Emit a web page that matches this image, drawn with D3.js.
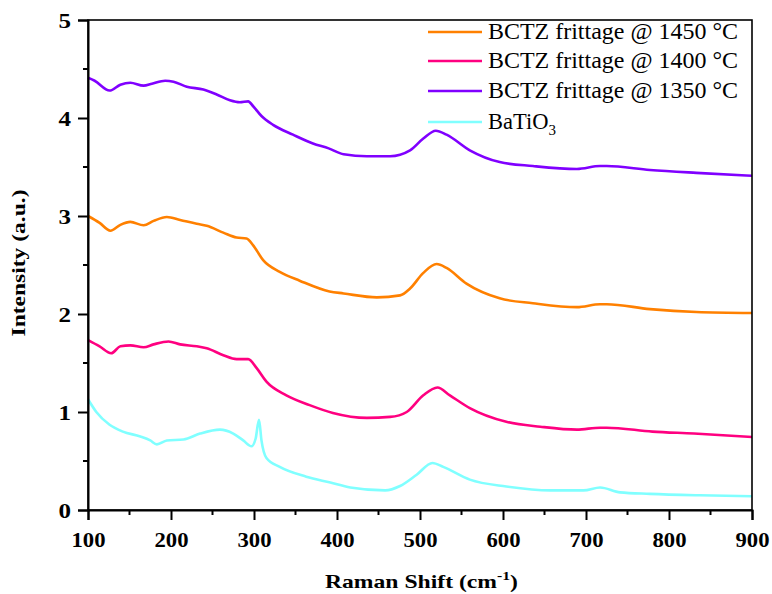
<!DOCTYPE html>
<html><head><meta charset="utf-8">
<script src="https://cdn.jsdelivr.net/npm/d3@7"></script>
<style>body{margin:0;background:#fff}svg{display:block}svg text{font-family:"Liberation Serif","Times New Roman",Times,serif}</style>
</head><body>
<svg id="chart" width="772" height="594"></svg>
<script>
const seriesNames = ["BCTZ frittage @ 1450 °C","BCTZ frittage @ 1400 °C","BCTZ frittage @ 1350 °C","BaTiO3"];
const seriesColors = ["#ff8000","#ff0080","#8000ff","#80ffff"];
const xTicks = [100,200,300,400,500,600,700,800,900];
const yTicks = [0,1,2,3,4,5];

const shift1450 = [100,114,127,139,151,167,179,195,211,231,243,263,279,291,299,311,331,355,391,408,448,476,488,504,520,532,556,596,636,689,717,725,777,833,900];
const int1450   = [3.00,2.93,2.85,2.91,2.94,2.905,2.95,2.99,2.96,2.92,2.90,2.83,2.78,2.77,2.70,2.55,2.43,2.34,2.23,2.21,2.17,2.19,2.26,2.42,2.51,2.47,2.31,2.16,2.11,2.07,2.10,2.10,2.05,2.02,2.01];

const shift1400 = [100,114,128,139,151,167,179,197,211,231,243,263,279,293,303,315,339,367,395,436,464,484,504,521,536,560,604,645,689,717,725,780,830,900];
const int1400   = [1.735,1.67,1.60,1.67,1.68,1.66,1.69,1.72,1.69,1.67,1.65,1.58,1.54,1.54,1.45,1.31,1.17,1.07,0.99,0.94,0.95,1.00,1.17,1.25,1.17,1.04,0.90,0.85,0.82,0.84,0.84,0.80,0.78,0.745];

const shift1350 = [100,108,126,139,151,167,177,193,203,219,239,255,271,283,293,299,309,323,347,371,390,408,436,464,488,504,519,532,560,596,636,689,717,725,777,833,900];
const int1350   = [4.41,4.38,4.28,4.34,4.36,4.33,4.35,4.38,4.37,4.32,4.29,4.24,4.18,4.16,4.17,4.12,4.02,3.93,3.83,3.74,3.69,3.63,3.61,3.61,3.67,3.79,3.87,3.83,3.67,3.55,3.51,3.48,3.51,3.51,3.47,3.44,3.41];

const shiftBT = [100,110,126,142,163,175,183,195,215,235,259,275,287,297,302,306,309,315,331,363,392,416,458,476,496,515,528,560,604,657,697,717,741,777,837,900];
const intBT   = [1.13,1.00,0.87,0.80,0.75,0.71,0.67,0.71,0.72,0.78,0.82,0.78,0.71,0.65,0.73,0.92,0.71,0.53,0.44,0.34,0.28,0.23,0.20,0.245,0.36,0.48,0.44,0.31,0.24,0.20,0.20,0.23,0.18,0.165,0.15,0.14];

const shifts = [shift1450, shift1400, shift1350, shiftBT];
const intens = [int1450, int1400, int1350, intBT];

const FONT = "'Liberation Serif','Times New Roman',Times,serif";
const svg = d3.select("#chart").style("font-family", FONT);
const mL = 88, mR = 752, mT = 20, mB = 510;
const x = d3.scaleLinear().domain([100,900]).range([mL,mR]);
const y = d3.scaleLinear().domain([0,5]).range([mB,mT]);

// curves
const line = d3.line().x(d=>x(d[0])).y(d=>y(d[1])).curve(d3.curveMonotoneX);
[3,1,0,2].forEach(i=>{
  const data = shifts[i].map((s,k)=>[s,intens[i][k]]);
  svg.append("path").datum(data).attr("d",line).attr("fill","none")
    .attr("stroke",seriesColors[i]).attr("stroke-width",2.6).attr("stroke-linejoin","round");
});

// frame
svg.append("rect").attr("x",mL).attr("y",mT).attr("width",mR-mL).attr("height",mB-mT)
  .attr("fill","none").attr("stroke","#000").attr("stroke-width",1.6);

// x axis
const xAxis = d3.axisBottom(x).tickValues(xTicks).tickSize(10).tickFormat(d3.format("d"));
const gx = svg.append("g").attr("transform",`translate(0,${mB})`).call(xAxis).attr("font-family",null);
gx.select(".domain").attr("stroke-width",2);
gx.selectAll(".tick line").attr("stroke-width",2);
gx.selectAll(".tick text").style("font-family",FONT).attr("font-size",22).attr("font-weight","bold").attr("dy",0).attr("y",37)
  .attr("textLength",34).attr("lengthAdjust","spacingAndGlyphs");
const xMinor = d3.range(150,900,100);
svg.append("g").selectAll("line").data(xMinor).join("line")
  .attr("x1",d=>x(d)).attr("x2",d=>x(d)).attr("y1",mB).attr("y2",mB+5)
  .attr("stroke","#000").attr("stroke-width",2);

// y axis
const yAxis = d3.axisLeft(y).tickValues(yTicks).tickSize(10).tickFormat(d3.format("d"));
const gy = svg.append("g").attr("transform",`translate(${mL},0)`).call(yAxis).attr("font-family",null);
gy.select(".domain").attr("stroke-width",2);
gy.selectAll(".tick line").attr("stroke-width",2);
gy.selectAll(".tick text").style("font-family",FONT).attr("font-size",21).attr("font-weight","bold").attr("x",-17).attr("dy","0.34em")
  .attr("textLength",12.5).attr("lengthAdjust","spacingAndGlyphs");
const yMinor = d3.range(0.5,5,1);
svg.append("g").selectAll("line").data(yMinor).join("line")
  .attr("x1",mL-5).attr("x2",mL).attr("y1",d=>y(d)).attr("y2",d=>y(d))
  .attr("stroke","#000").attr("stroke-width",2);

// axis titles
const xtG = svg.append("g");
const xt = xtG.append("text").style("font-family",FONT).attr("x",0).attr("y",0)
  .attr("font-size",18).attr("font-weight","bold");
xt.append("tspan").text("Raman Shift (cm");
xt.append("tspan").attr("font-size",12).attr("dy",-8).text("-1");
xt.append("tspan").attr("dy",8).text(")");
const xb = xt.node().getBBox();
const sx = 193 / xb.width;
xtG.attr("transform",`translate(${421.5 - 193/2 - xb.x*sx},588) scale(${sx},1)`);

svg.append("text").style("font-family",FONT).attr("transform",`translate(25,263) rotate(-90)`)
  .attr("text-anchor","middle").attr("font-size",18).attr("font-weight","bold")
  .attr("textLength",147).attr("lengthAdjust","spacingAndGlyphs").text("Intensity (a.u.)");

// legend
const legY = [32,61,91,122];
seriesNames.forEach((n,i)=>{
  svg.append("line").attr("x1",428).attr("x2",482).attr("y1",legY[i]).attr("y2",legY[i])
    .attr("stroke",seriesColors[i]).attr("stroke-width",2.6);
  const t = svg.append("text").style("font-family",FONT).attr("x",488).attr("y",legY[i]+7).attr("font-size",22.5);
  if (n === "BaTiO3") {
    t.append("tspan").text("BaTiO");
    t.append("tspan").attr("font-size",15).attr("dy",6).text("3");
  } else {
    t.attr("textLength",250).attr("lengthAdjust","spacingAndGlyphs").text(n);
  }
});
</script>
</body></html>
